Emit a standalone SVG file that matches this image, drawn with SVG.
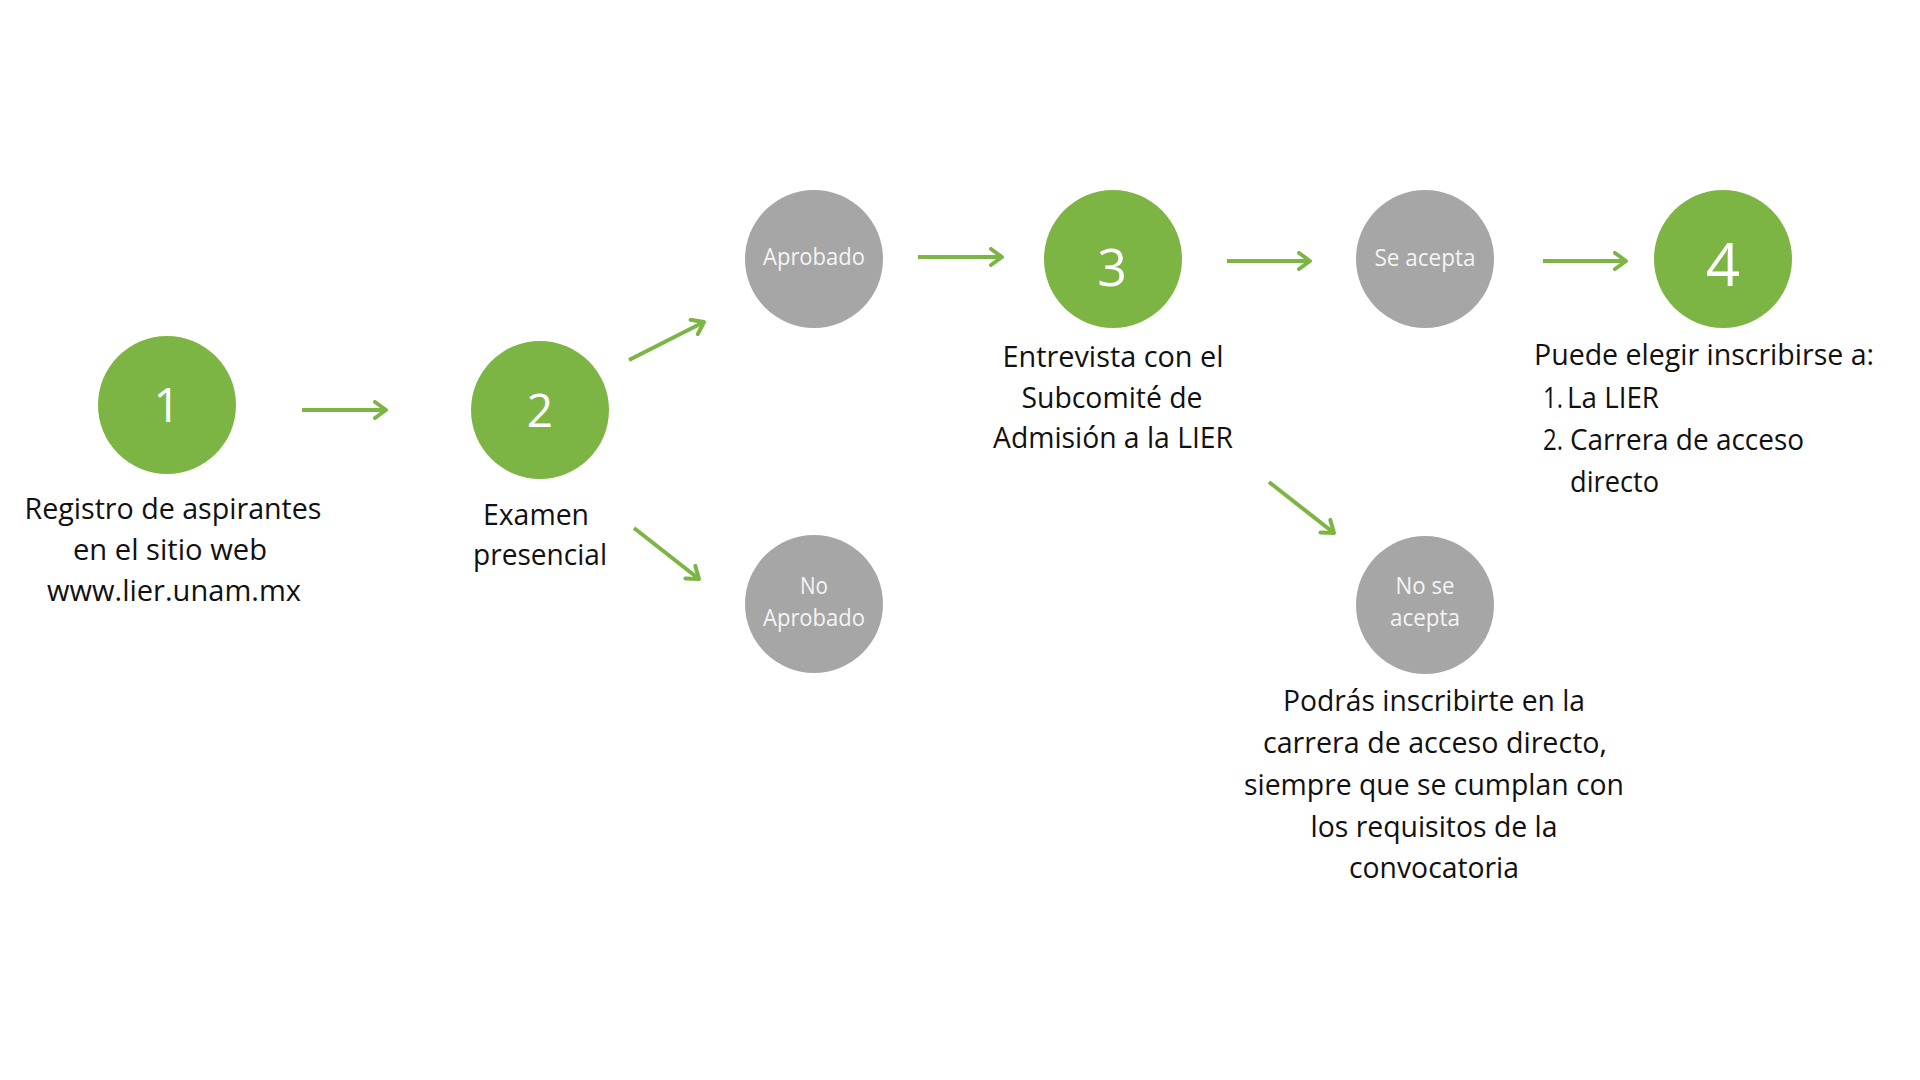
<svg xmlns="http://www.w3.org/2000/svg" width="1920" height="1080" viewBox="0 0 1920 1080">
<style>
.g{fill:#7db544}
.s{fill:#a6a6a6}
.num{font-family:"Open Sans","Noto Sans",sans-serif;fill:#ffffff;text-anchor:middle}
.cl{font-family:"Open Sans","Noto Sans",sans-serif;font-size:24px;fill:#f4f4f4;text-anchor:middle}
.t{font-family:"Open Sans","Noto Sans",sans-serif;font-size:30px;fill:#111111;text-anchor:middle}
.tl{font-family:"Open Sans","Noto Sans",sans-serif;font-size:30px;fill:#111111}
.c{stroke:#7db544;stroke-width:4;fill:none;marker-end:url(#ah)}
</style>
<defs>
<marker id="ah" markerUnits="userSpaceOnUse" markerWidth="20" markerHeight="20" refX="14" refY="10" orient="auto">
<path d="M3,2 L14,10 L3,18" fill="none" stroke="#7db544" stroke-width="4" stroke-linecap="round" stroke-linejoin="round"/>
</marker>
</defs>
<rect width="1920" height="1080" fill="#ffffff"/>
<g id="connectors">
<line class="c" x1="302" y1="410" x2="386" y2="410"/>
<line class="c" x1="629" y1="360" x2="704" y2="322"/>
<line class="c" x1="634" y1="528" x2="699" y2="579"/>
<line class="c" x1="918" y1="257" x2="1002" y2="257"/>
<line class="c" x1="1227" y1="261" x2="1310" y2="261"/>
<line class="c" x1="1543" y1="261" x2="1626" y2="261"/>
<line class="c" x1="1269" y1="482" x2="1334" y2="533"/>
</g>
<g id="node1">
<circle class="g" cx="167" cy="405" r="69"/>
<text class="num" x="167" y="422" font-size="47">1</text>
<text class="t" x="173" y="519" textLength="297" lengthAdjust="spacingAndGlyphs">Registro de aspirantes</text>
<text class="t" x="170" y="560" textLength="194" lengthAdjust="spacingAndGlyphs">en el sitio web</text>
<text class="t" x="174" y="601" textLength="254" lengthAdjust="spacingAndGlyphs">www.lier.unam.mx</text>
</g>
<g id="node2">
<circle class="g" cx="540" cy="410" r="69"/>
<text class="num" x="540" y="427" font-size="46">2</text>
<text class="t" x="536" y="525" textLength="106" lengthAdjust="spacingAndGlyphs">Examen</text>
<text class="t" x="540" y="565" textLength="134" lengthAdjust="spacingAndGlyphs">presencial</text>
</g>
<g id="aprobado">
<circle class="s" cx="814" cy="259" r="69"/>
<text class="cl" x="814" y="265" textLength="102" lengthAdjust="spacingAndGlyphs">Aprobado</text>
</g>
<g id="no-aprobado">
<circle class="s" cx="814" cy="604" r="69"/>
<text class="cl" x="814" y="594" textLength="28" lengthAdjust="spacingAndGlyphs">No</text>
<text class="cl" x="814" y="626" textLength="102" lengthAdjust="spacingAndGlyphs">Aprobado</text>
</g>
<g id="node3">
<circle class="g" cx="1113" cy="259" r="69"/>
<text class="num" x="1112" y="286" font-size="52">3</text>
<text class="t" x="1113" y="367" textLength="221" lengthAdjust="spacingAndGlyphs">Entrevista con el</text>
<text class="t" x="1112" y="408" textLength="181" lengthAdjust="spacingAndGlyphs">Subcomité de</text>
<text class="t" x="1113" y="448" textLength="240" lengthAdjust="spacingAndGlyphs">Admisión a la LIER</text>
</g>
<g id="se-acepta">
<circle class="s" cx="1425" cy="259" r="69"/>
<text class="cl" x="1425" y="266" textLength="101" lengthAdjust="spacingAndGlyphs">Se acepta</text>
</g>
<g id="no-se-acepta">
<circle class="s" cx="1425" cy="605" r="69"/>
<text class="cl" x="1425" y="594" textLength="59" lengthAdjust="spacingAndGlyphs">No se</text>
<text class="cl" x="1425" y="626" textLength="70" lengthAdjust="spacingAndGlyphs">acepta</text>
<text class="t" x="1434" y="711" textLength="302" lengthAdjust="spacingAndGlyphs">Podrás inscribirte en la</text>
<text class="t" x="1435" y="753" textLength="344" lengthAdjust="spacingAndGlyphs">carrera de acceso directo,</text>
<text class="t" x="1434" y="795" textLength="380" lengthAdjust="spacingAndGlyphs">siempre que se cumplan con</text>
<text class="t" x="1434" y="837" textLength="247" lengthAdjust="spacingAndGlyphs">los requisitos de la</text>
<text class="t" x="1434" y="878" textLength="170" lengthAdjust="spacingAndGlyphs">convocatoria</text>
</g>
<g id="node4">
<circle class="g" cx="1723" cy="259" r="69"/>
<text class="num" x="1723" y="286" font-size="60">4</text>
<text class="tl" x="1534" y="365" textLength="340" lengthAdjust="spacingAndGlyphs">Puede elegir inscribirse a:</text>
<text class="tl" x="1543" y="408" font-size="26" textLength="20" lengthAdjust="spacingAndGlyphs">1.</text>
<text class="tl" x="1567" y="408" textLength="92" lengthAdjust="spacingAndGlyphs">La LIER</text>
<text class="tl" x="1543" y="450" font-size="26" textLength="20" lengthAdjust="spacingAndGlyphs">2.</text>
<text class="tl" x="1570" y="450" textLength="234" lengthAdjust="spacingAndGlyphs">Carrera de acceso</text>
<text class="tl" x="1570" y="492" textLength="89" lengthAdjust="spacingAndGlyphs">directo</text>
</g>
</svg>
